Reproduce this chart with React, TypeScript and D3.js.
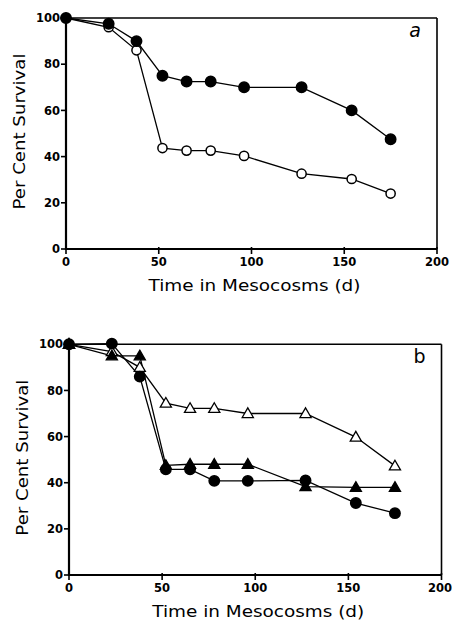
import React from "react";
import * as d3 from "d3";

// Sampling days (d) in the mesocosms
const days = [0, 23, 38, 52, 65, 78, 96, 127, 154, 175];

// Panel a: per cent survival
const aFilledCircles = [100, 97.5, 90, 75, 72.5, 72.5, 70, 70, 60, 47.5];
const aOpenCircles = [100, 96, 86, 43.7, 42.6, 42.6, 40.3, 32.6, 30.3, 24];

// Panel b: per cent survival
const bOpenTriangles = [100, 96.8, 90, 74.5, 72.2, 72.2, 70, 70, 59.8, 47.3];
const bFilledTriangles = [100, 95, 95, 47.5, 48, 48, 48, 38.3, 38, 38];
const bFilledCircles = [100, 100.3, 86, 45.8, 45.8, 40.8, 40.8, 41, 31.2, 26.8];

const xTicks = [0, 50, 100, 150, 200];
const yTicks = [0, 20, 40, 60, 80, 100];

type Series = { values: number[]; marker: "circle" | "triangle"; filled: boolean };

const FONT = "'DejaVu Sans', Verdana, sans-serif";
const PAGE_W = 452;

function Panel({
  x0, x1, y0, y1, series, letter, titleY, tickLabelY,
}: {
  x0: number; x1: number; y0: number; y1: number;
  series: Series[]; letter: string; titleY: number; tickLabelY: number;
}) {
  const x = d3.scaleLinear().domain([0, 200]).range([x0, x1]);
  const y = d3.scaleLinear().domain([0, 100]).range([y0, y1]);
  const line = d3.line<number>().x((_, i) => x(days[i])).y((v) => y(v));
  const tri = d3.symbol().type(d3.symbolTriangle).size(54);

  return (
    <g>
      {/* frame */}
      <line x1={x0} y1={y1} x2={x1} y2={y1} stroke="#000" strokeWidth={1.6} />
      <line x1={x1} y1={y1} x2={x1} y2={y0} stroke="#000" strokeWidth={1.6} />
      {/* axes */}
      <line x1={x0} y1={y0} x2={x1} y2={y0} stroke="#000" strokeWidth={2} />
      <line x1={x0} y1={y0 + 1} x2={x0} y2={y1} stroke="#000" strokeWidth={2.2} />
      {yTicks.map((t) => (
        <g key={"y" + t}>
          <line x1={x0 - 5} x2={x0} y1={y(t)} y2={y(t)} stroke="#000" strokeWidth={1.6} />
          <text x={x0 - 6} y={y(t)} dy="0.36em" textAnchor="end" fontFamily={FONT}
            fontSize={11.5} fontWeight="bold">{t}</text>
        </g>
      ))}
      {xTicks.map((t) => {
        // keep the last label inside the page edge
        const tx = Math.min(x(t), PAGE_W - 12);
        return (
          <g key={"x" + t}>
            <line x1={x(t)} x2={x(t)} y1={y0 - 2} y2={y0 + 5} stroke="#000" strokeWidth={1.6} />
            <text x={tx} y={tickLabelY} textAnchor="middle" fontFamily={FONT}
              fontSize={11.5} fontWeight="bold">{t}</text>
          </g>
        );
      })}
      <text x={(x0 + x1) / 2 + 3} y={titleY} textAnchor="middle" fontFamily={FONT}
        fontSize={16} textLength={212} lengthAdjust="spacingAndGlyphs">Time in Mesocosms (d)</text>
      <text transform={`translate(${x0 - 41},${(y0 + y1) / 2 - 2}) rotate(-90)`} textAnchor="middle"
        fontFamily={FONT} fontSize={16} textLength={156} lengthAdjust="spacingAndGlyphs">Per Cent Survival</text>
      <text x={x1 - 22} y={y1 + 19} textAnchor="middle" fontFamily={FONT} fontSize={19}
        fontStyle={letter === "a" ? "italic" : "normal"}>{letter}</text>

      {series.map((s, si) => (
        <path key={"l" + si} d={line(s.values) ?? ""} fill="none" stroke="#000" strokeWidth={1.3} />
      ))}
      {series.map((s, si) =>
        s.values.map((v, i) =>
          s.marker === "circle" ? (
            <circle key={`m${si}-${i}`} cx={x(days[i])} cy={y(v)} r={s.filled ? 5.2 : 4.6}
              fill={s.filled ? "#000" : "#fff"} stroke="#000" strokeWidth={1.5} />
          ) : (
            <path key={`m${si}-${i}`} d={tri() ?? ""}
              transform={`translate(${x(days[i])},${y(v) + 0.8})`}
              fill={s.filled ? "#000" : "#fff"} stroke="#000" strokeWidth={1.3} />
          )
        )
      )}
    </g>
  );
}

export default function App() {
  return (
    <svg width={PAGE_W} height={623} style={{ position: "absolute", left: 0, top: 0, background: "#fff" }}>
      <rect width={PAGE_W} height={623} fill="#fff" />
      <Panel x0={66} x1={437} y0={249} y1={18} letter="a" titleY={291} tickLabelY={266}
        series={[
          { values: aOpenCircles, marker: "circle", filled: false },
          { values: aFilledCircles, marker: "circle", filled: true },
        ]} />
      <Panel x0={69} x1={441.5} y0={575} y1={344.3} letter="b" titleY={617} tickLabelY={592}
        series={[
          { values: bOpenTriangles, marker: "triangle", filled: false },
          { values: bFilledTriangles, marker: "triangle", filled: true },
          { values: bFilledCircles, marker: "circle", filled: true },
        ]} />
    </svg>
  );
}
